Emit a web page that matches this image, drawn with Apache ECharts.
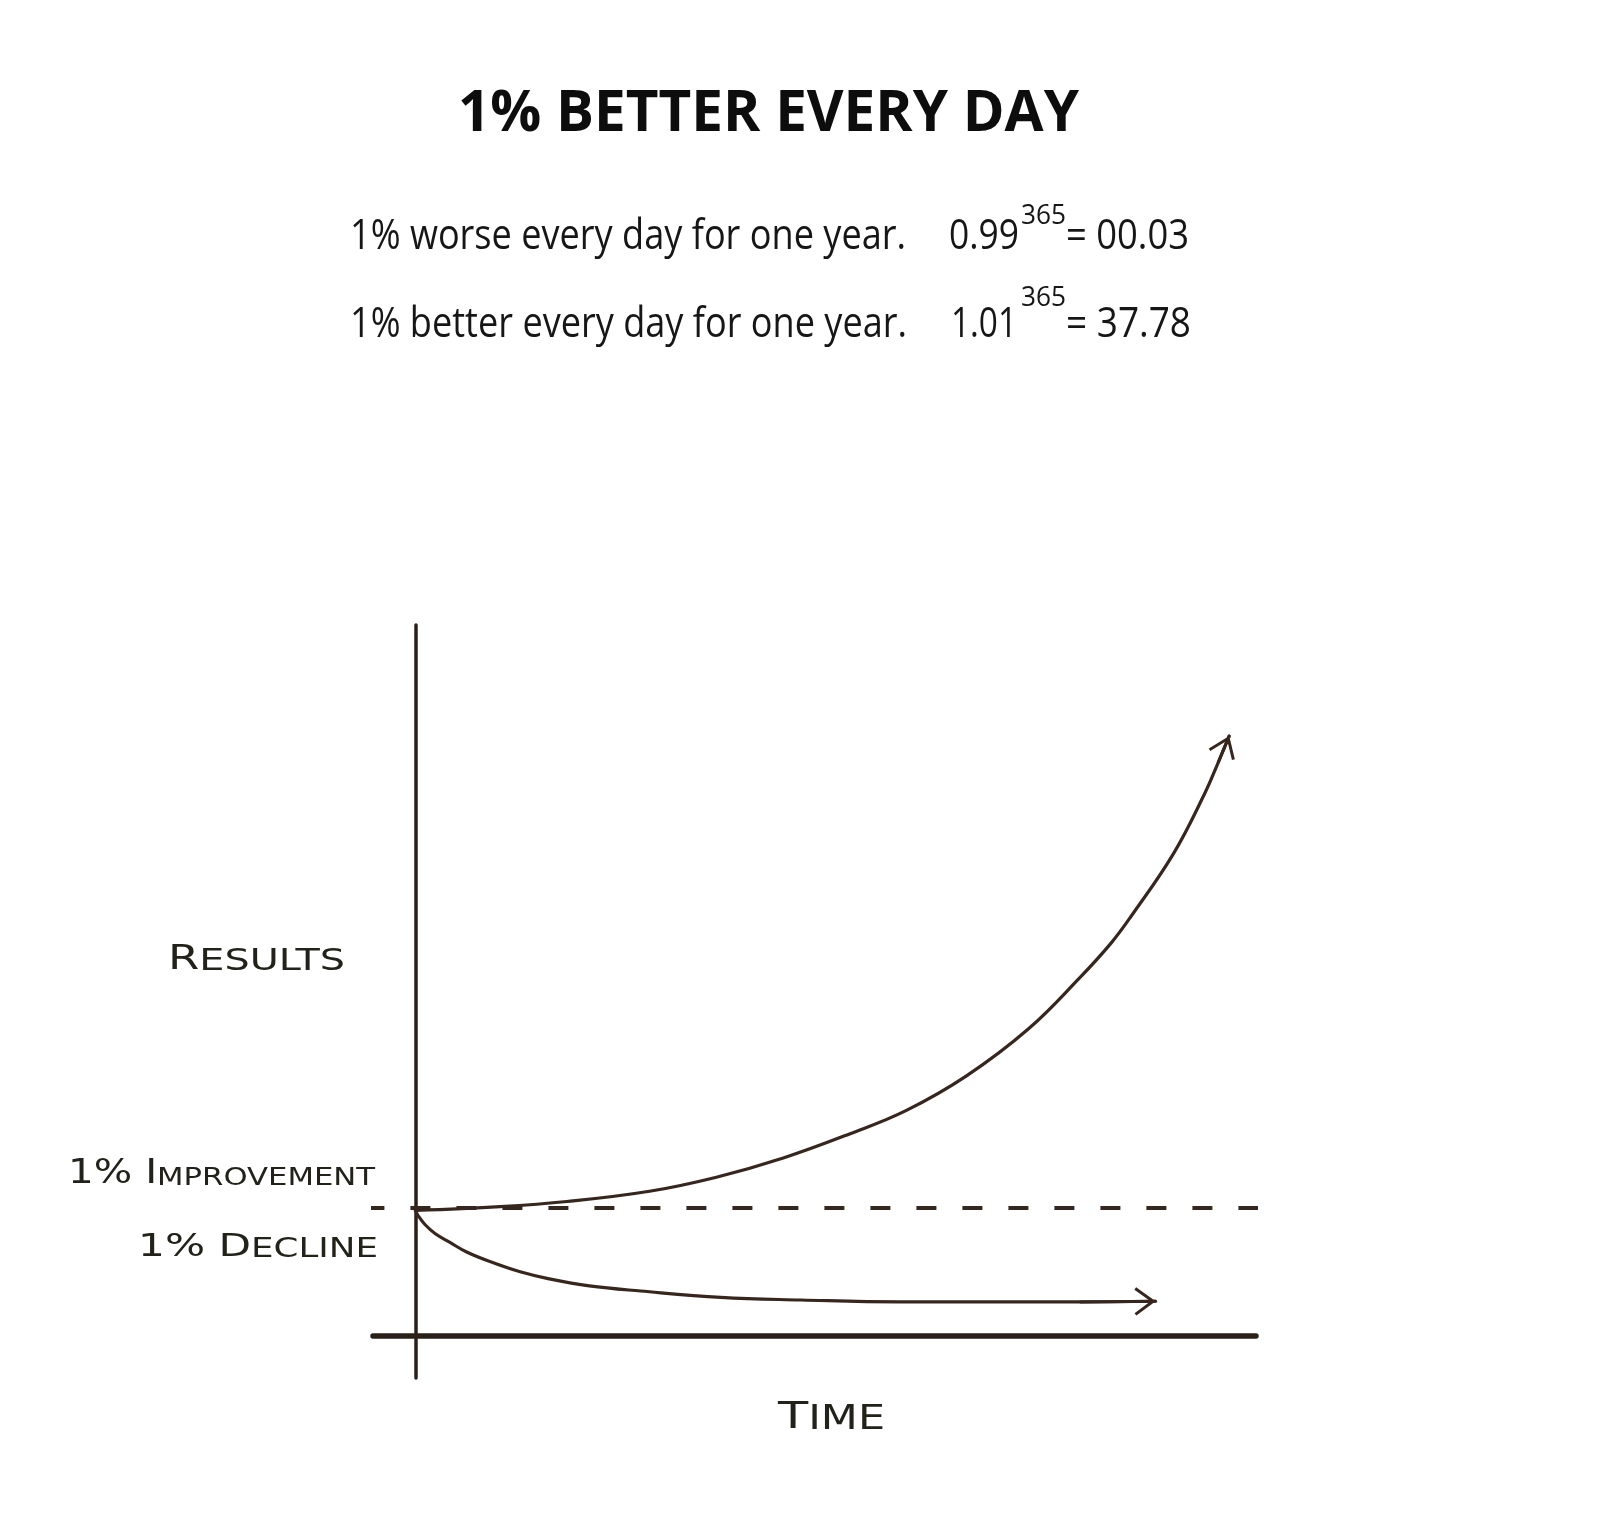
<!DOCTYPE html>
<html>
<head>
<meta charset="utf-8">
<script src="https://cdn.jsdelivr.net/npm/echarts@6/dist/echarts.min.js"></script>
<style>
  html, body { margin: 0; padding: 0; background: #ffffff; }
  #chart { width: 1614px; height: 1513px; }
</style>
</head>
<body>
<div id="chart"></div>
<script>
// ---------------- data ----------------
const titleText = '1% BETTER EVERY DAY';
const worseText = '1% worse every day for one year.';
const worseBase = '0.99';
const worseResult = '= 00.03';
const betterText = '1% better every day for one year.';
const betterBase = '1.01';
const betterResult = '= 37.78';
const exponentText = '365';

const yAxisLabel = ['R', 'ESULTS'];
const xAxisLabel = ['T', 'IME'];
const improvementLabel = ['1% I', 'MPROVEMENT'];
const declineLabel = ['1% D', 'ECLINE'];

// time (days) and results (baseline = 1)
const growthDays   = [0, 38, 68, 105, 135, 165, 195, 220, 247, 275, 298, 312, 321, 340, 354, 360, 365];
const growthValues = [0.98, 1.01, 1.05, 1.13, 1.24, 1.39, 1.58, 1.76, 2.03, 2.40, 2.80, 3.07, 3.28, 3.77, 4.24, 4.48, 4.69];

const declineDays   = [0, 1.2, 4.3, 8.8, 15.5, 23, 33.5, 47, 60, 78, 101, 137, 173, 217, 262, 298, 332];
const declineValues = [0.98, 0.94, 0.87, 0.80, 0.73, 0.655, 0.58, 0.50, 0.445, 0.39, 0.35, 0.30, 0.28, 0.265, 0.265, 0.265, 0.27];

const baselineValue = 1;
const baselineSpan = [-126, 378];

// ---------------- helpers ----------------
const INK = '#36261d';
const AXIS_INK = '#2a1f19';
const HAND_INK = '#22221a';
const SANS = "'Open Sans', 'Liberation Sans', sans-serif";
const HAND = "'DejaVu Sans', sans-serif";

const mctx = document.createElement('canvas').getContext('2d');
function measure(text, size, family, weight) {
  mctx.font = (weight || 'normal') + ' ' + size + 'px ' + family;
  return mctx.measureText(text).width;
}
function fittedText(text, x, baseline, size, width, weight, color) {
  const s = width / measure(text, size, SANS, weight);
  return {
    type: 'text', x: x, y: baseline - 0.30 * size, scaleX: s, z: 100,
    style: {
      text: text, fontFamily: SANS, fontSize: size, fontWeight: weight || 'normal',
      fill: color || '#161616', align: 'left', verticalAlign: 'middle'
    }
  };
}
function handText(parts, x, baseline, bigSize, smallSize, width) {
  const w = measure(parts[0], bigSize, HAND) + measure(parts[1], smallSize, HAND);
  return {
    type: 'text', x: x, y: baseline + 0.154 * bigSize, scaleX: width / w, z: 100,
    style: {
      text: '{a|' + parts[0] + '}{b|' + parts[1] + '}',
      align: 'left', verticalAlign: 'bottom', fill: HAND_INK,
      rich: {
        a: { fontFamily: HAND, fontSize: bigSize, fill: HAND_INK, verticalAlign: 'bottom' },
        b: { fontFamily: HAND, fontSize: smallSize, fill: HAND_INK, verticalAlign: 'bottom' }
      }
    }
  };
}
function zip(xs, ys) { return xs.map((x, i) => [x, ys[i]]); }
function lastSegment(xs, ys) {
  const n = xs.length;
  return [[{ coord: [xs[n - 2], ys[n - 2]] }, { coord: [xs[n - 1], ys[n - 1]] }]];
}
// open chevron arrow head, tip at the centre of its box
const CHEVRON = 'path://M14.1,21.2 L28.2,40.6 L25.8,42.4 L14.1,26.3 L2.4,42.4 L0,40.6 Z M14.1,0 L14.2,0 L14.1,0.1 Z';

function arrowMarkLine(xs, ys) {
  return {
    silent: true,
    animation: false,
    symbol: ['none', CHEVRON],
    symbolSize: [28.2, 42.4],
    label: { show: false },
    lineStyle: { type: 'solid', width: 3, color: INK },
    data: lastSegment(xs, ys)
  };
}

// ---------------- chart ----------------
const chart = echarts.init(document.getElementById('chart'), null, { renderer: 'canvas' });

const option = {
  animation: false,
  backgroundColor: '#ffffff',
  grid: { left: 373, right: 358, top: 625, bottom: 135, containLabel: false },
  xAxis: {
    type: 'value', min: -19, max: 377,
    axisLine: { show: true, onZero: true, lineStyle: { color: AXIS_INK, width: 5.5 } },
    axisTick: { show: false }, axisLabel: { show: false }, splitLine: { show: false }
  },
  yAxis: {
    type: 'value', min: -0.33, max: 5.557,
    axisLine: { show: true, onZero: true, lineStyle: { color: AXIS_INK, width: 3.5 } },
    axisTick: { show: false }, axisLabel: { show: false }, splitLine: { show: false }
  },
  series: [
    {
      name: 'Baseline', type: 'line', clip: false, silent: true,
      data: zip(baselineSpan, [baselineValue, baselineValue]),
      showSymbol: false, symbol: 'none',
      lineStyle: { color: '#33271f', width: 4, type: [20, 26] },
      z: 2
    },
    {
      name: '1% better', type: 'line', clip: false, silent: true,
      data: zip(growthDays, growthValues),
      smooth: 0.4, showSymbol: false, symbol: 'none',
      lineStyle: { color: INK, width: 3.2, cap: 'round', join: 'round' },
      markLine: arrowMarkLine(growthDays, growthValues),
      z: 3
    },
    {
      name: '1% worse', type: 'line', clip: false, silent: true,
      data: zip(declineDays, declineValues),
      smooth: 0.4, showSymbol: false, symbol: 'none',
      lineStyle: { color: INK, width: 3.2, cap: 'round', join: 'round' },
      markLine: arrowMarkLine(declineDays, declineValues),
      z: 3
    }
  ],
  graphic: [
    fittedText(titleText, 458, 131.8, 57, 621, 'bold', '#0d0d0d'),
    fittedText(worseText, 350, 250, 42, 556),
    fittedText(worseBase, 949, 250, 42, 70),
    fittedText(exponentText, 1021, 224.4, 27, 45),
    fittedText(worseResult, 1066, 250, 42, 123),
    fittedText(betterText, 350, 337.6, 42, 557),
    fittedText(betterBase, 951, 337.6, 42, 66),
    fittedText(exponentText, 1021, 306.7, 27, 45),
    fittedText(betterResult, 1066, 337.6, 42, 125),
    handText(yAxisLabel, 168, 971.7, 34, 30, 177),
    handText(improvementLabel, 68, 1186, 33, 25, 307),
    handText(declineLabel, 138, 1259, 32, 27, 240),
    handText(xAxisLabel, 778, 1431, 38, 33, 107)
  ]
};
chart.setOption(option);
</script>
</body>
</html>
